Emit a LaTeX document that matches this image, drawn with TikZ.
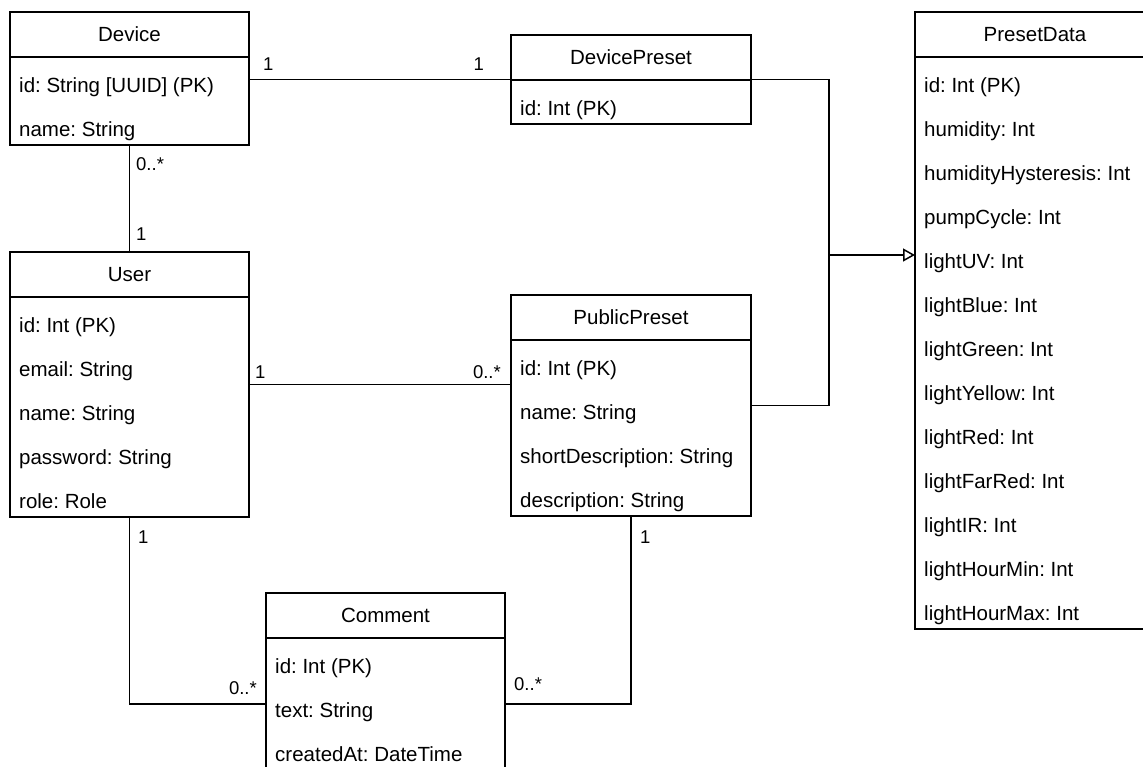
\documentclass[tikz,border=0pt]{standalone}
\usepackage{fontspec}
\setmainfont{Liberation Sans}
\usetikzlibrary{arrows.meta,calc}
\frenchspacing
\tikzset{
  umlframe/.style={draw, line width=1.5pt, rectangle, anchor=north west, inner sep=0pt, outer sep=0pt},
  framepen/.style={line width=1.5pt},
  rowtext/.style={anchor=base west, inner sep=0pt, font=\fontsize{20.5}{24}\selectfont},
  titletext/.style={anchor=base, inner sep=0pt, font=\fontsize{20.5}{24}\selectfont},
  conn/.style={line width=1.5pt},
  mult/.style={inner sep=0pt, font=\fontsize{18.5}{22}\selectfont},
  inherit/.style={conn, -{Triangle[open, length=12pt, width=13pt, line width=1.5pt]}},
}
\newcommand\umlbox[6]{%
  \foreach \r [count=\i] in {#6} {\xdef\umln{\i}}%
  \node[umlframe, minimum width=#4, minimum height={45+44*\umln}] (#1) at (#2,#3) {};
  \draw[framepen] ($(#1.north west)+(0,45)$) -- ($(#1.north east)+(0,45)$);
  \node[titletext] (#1-t) at ($(#1.north)+(0,29.5)$) {#5};
  \foreach \r [count=\i] in {#6} {\node[rowtext] (#1-\i) at ($(#1.north west)+(9,{45+44*(\i-1)+35})$) {\r};}
}
\begin{document}
\begin{tikzpicture}[x=1pt,y=-1pt]
\useasboundingbox (0,0) rectangle (1143,766);
\fill[white] (0,0) rectangle (1143,766);

\umlbox{device}{10}{12}{239}{Device}{id: String [UUID] (PK), name: String}
\umlbox{devp}{511}{35}{240}{DevicePreset}{id: Int (PK)}
\umlbox{presetdata}{915}{12}{240}{PresetData}{id: Int (PK), humidity: Int, humidityHysteresis: Int, pumpCycle: Int, lightUV: Int, lightBlue: Int, lightGreen: Int, lightYellow: Int, lightRed: Int, lightFarRed: Int, lightIR: Int, lightHourMin: Int, lightHourMax: Int}
\umlbox{user}{10}{252}{239}{User}{id: Int (PK), email: String, name: String, password: String, role: Role}
\umlbox{pubp}{511}{295}{240}{PublicPreset}{id: Int (PK), name: String, shortDescription: String, description: String}
\umlbox{comment}{266}{593}{239}{Comment}{id: Int (PK), text: String, createdAt: DateTime}

\coordinate (cmtin) at ($(comment.north west)+(0,111)$);
\coordinate (cmtout) at ($(comment.north east)+(0,111)$);
\coordinate (pdin) at ($(presetdata.north west)+(0,{45+4*44+22})$);
\coordinate (junc) at (829,255);

\draw[conn] (devp.west -| device.east) -- (devp.west);
\draw[conn] (device.south) -- (user.north);
\draw[conn] (user.east) -- (user.east -| pubp.west);
\draw[conn] (user.south) |- (cmtin);
\draw[conn] (pubp.south) |- (cmtout);
\draw[inherit] (devp.east) -| (junc |- pdin) -- (pdin);
\draw[conn] (pubp.east) -| (junc |- pdin);

\node[mult, anchor=base west] (m1) at (263,70) {1};
\node[mult, anchor=base east] (m2) at (484,70) {1};
\node[mult, anchor=base west] (m3) at (136,170) {0..*};
\node[mult, anchor=base west] (m4) at (136,240) {1};
\node[mult, anchor=base west] (m5) at (255,378) {1};
\node[mult, anchor=base east] (m6) at (501,378) {0..*};
\node[mult, anchor=base west] (m7) at (138,543) {1};
\node[mult, anchor=base east] (m8) at (257,694) {0..*};
\node[mult, anchor=base west] (m9) at (514,690) {0..*};
\node[mult, anchor=base west] (m10) at (640,543) {1};
\end{tikzpicture}
\end{document}
